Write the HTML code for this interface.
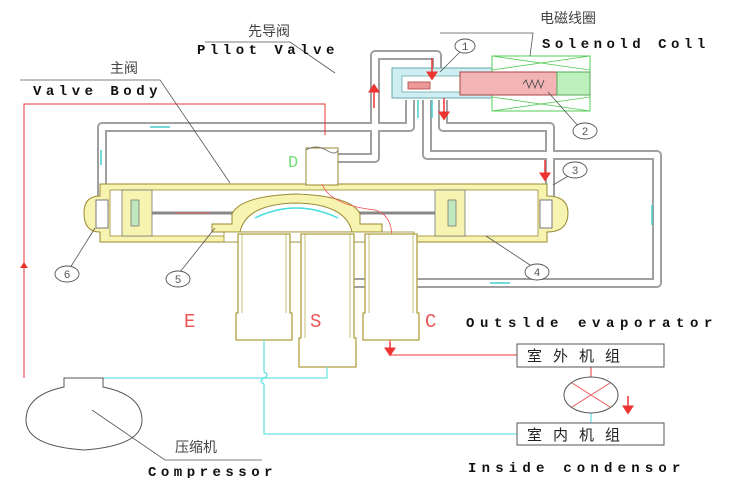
<!DOCTYPE html>
<html><head><meta charset="utf-8"><style>
html,body{margin:0;padding:0;background:#fff}
svg{display:block}
text{font-family:"Liberation Mono","Noto Sans CJK SC",monospace}
.cn{font-family:"Liberation Sans","Noto Sans CJK SC",sans-serif;font-size:14px;fill:#444}
.en{font-size:14px;fill:#111;letter-spacing:4.5px;font-weight:bold}
</style></head><body>
<svg width="740" height="478" viewBox="0 0 740 478" xmlns="http://www.w3.org/2000/svg">
<defs>
<marker id="ar" markerWidth="6" markerHeight="8" refX="3" refY="4" orient="auto"><path d="M0,0L6,4L0,8z" fill="#e33"/></marker>
</defs>
<g fill="none" stroke-linejoin="round">
<g stroke="#a0a0a0" stroke-width="10">
<path d="M102,205V127H410V100"/>
<path d="M443,100V127H550V205"/>
<path d="M427,100V155H657V283H332"/>
<path d="M330,158H375V55H437V68"/>
</g>
<g stroke="#fff" stroke-width="6">
<path d="M102,205V127H410V100"/>
<path d="M443,100V127H550V205"/>
<path d="M427,100V155H657V283H332"/>
<path d="M330,158H375V55H437V68"/>
</g>
</g>
<path d="M100,184H547V196Q568,196 568,213Q568,232 547,232V242H100V232Q84,232 84,213Q84,196 100,196Z" fill="#f7f3b0" stroke="#998a30" stroke-width="1"/>
<rect x="110" y="190" width="428" height="46" fill="#fff" stroke="#998a30" stroke-width="0.8"/>
<rect x="96" y="200" width="12" height="28" fill="#fff" stroke="#777"/>
<rect x="540" y="200" width="12" height="28" fill="#fff" stroke="#777"/>
<rect x="306" y="148" width="32" height="37" fill="#fff" stroke="#998a30"/>
<path d="M306,150q10,-6 20,0q10,6 12,0" fill="none" stroke="#777"/>
<g stroke="#777" stroke-width="0.8">
<rect x="122" y="190" width="30" height="46" fill="#f7f3b0"/>
<rect x="131" y="200" width="8" height="26" fill="#bfe8bf"/>
<rect x="435" y="190" width="30" height="46" fill="#f7f3b0"/>
<rect x="448" y="200" width="8" height="26" fill="#bfe8bf"/>
</g>
<line x1="152" y1="213" x2="435" y2="213" stroke="#888" stroke-width="3"/>
<line x1="175" y1="213" x2="210" y2="213" stroke="#d66" stroke-width="1"/>
<path d="M212,224H232V214Q240,196 296,194Q352,196 360,214V224H382V232H212Z" fill="#f7f3b0" stroke="#998a30"/>
<path d="M240,232Q246,204 296,203Q346,204 352,232Z" fill="#fff" stroke="#998a30"/>
<path d="M255,218Q296,198 338,218" fill="none" stroke="#4dd" stroke-width="1.5"/>
<rect x="224" y="232" width="190" height="10" fill="#fff" stroke="#998a30" stroke-width="0.8"/>
<path d="M322,184Q330,205 375,210Q392,215 392,238" fill="none" stroke="#e55" stroke-width="0.8" marker-end="url(#ar)"/>
<g fill="#fff" stroke="#b0a040" stroke-width="1.3">
<path d="M238,234V313H236V340H292V313H290V234Z"/>
<path d="M301,234V338H299V367H356V338H354V234Z"/>
<path d="M365,234V313H363V340H419V313H417V234Z"/>
</g>
<g fill="none" stroke="#b0a040" stroke-width="0.7">
<path d="M242,234V313M286,234V313M305,234V338M350,234V338M369,234V313M413,234V313"/>
</g>
<g font-family="Liberation Sans,sans-serif" font-size="19" fill="#e55">
<text x="184" y="327">E</text><text x="310" y="327">S</text><text x="425" y="327">C</text>
</g>
<text x="288" y="167" font-family="Liberation Sans,sans-serif" font-size="17" fill="#7d7">D</text>
<rect x="392" y="68" width="100" height="30" fill="#cfeef2" stroke="#6aa"/>
<rect x="402" y="76" width="60" height="16" fill="#fff" stroke="#6aa" stroke-width="0.8"/>
<rect x="408" y="82" width="22" height="7" fill="#e99" stroke="#a44" stroke-width="0.8"/>
<rect x="492" y="56" width="98" height="55" fill="#fff" stroke="#5c5"/>
<path d="M492,56L590,70M492,70L590,56M492,97L590,111M492,111L590,97" stroke="#5c5" stroke-width="0.8"/>
<rect x="460" y="72" width="97" height="23" fill="#f2b4b4" stroke="#a44"/>
<rect x="557" y="72" width="33" height="23" fill="#bdf0bd" stroke="#5a5"/>
<path d="M523,84l3,-4l3,8l3,-8l3,8l3,-8l3,8l3,-8" fill="none" stroke="#444" stroke-width="0.8"/>
<g stroke-width="1.5">
<line x1="374" y1="108" x2="374" y2="88" stroke="#e33" marker-end="url(#ar)"/>
<line x1="432" y1="58" x2="432" y2="76" stroke="#e33" marker-end="url(#ar)"/>
<line x1="444" y1="98" x2="444" y2="116" stroke="#e33" marker-end="url(#ar)"/>
<line x1="418" y1="118" x2="418" y2="100" stroke="#4cc"/>
<line x1="432" y1="100" x2="432" y2="118" stroke="#4cc"/>
<line x1="101" y1="165" x2="101" y2="150" stroke="#4cc"/>
<line x1="150" y1="127" x2="170" y2="127" stroke="#4cc"/>
<line x1="545" y1="160" x2="545" y2="177" stroke="#e33" marker-end="url(#ar)"/>
<line x1="652" y1="205" x2="652" y2="225" stroke="#4cc"/>
<line x1="490" y1="283" x2="510" y2="283" stroke="#4cc"/>
</g>
<g fill="none" stroke-width="1">
<path d="M24,378V104H325V135" stroke="#e33"/>
<line x1="24" y1="275" x2="24" y2="265" stroke="#e33" marker-end="url(#ar)"/>
<path d="M103,378H327V367" stroke="#4dd"/>
<path d="M264,340V372q6,3 0,6q-6,3 0,6V434H517" stroke="#4dd"/>
<path d="M390,340V355H517" stroke="#e33"/>
<path d="M591,367V377" stroke="#e33"/>
<path d="M591,413V423" stroke="#4dd"/>
<line x1="628" y1="396" x2="628" y2="410" stroke="#e33" stroke-width="1.5" marker-end="url(#ar)"/>
<line x1="390" y1="342" x2="390" y2="352" stroke="#e33" stroke-width="1.5" marker-end="url(#ar)"/>
</g>
<rect x="517" y="344" width="147" height="23" fill="#fff" stroke="#555"/>
<rect x="517" y="423" width="147" height="22" fill="#fff" stroke="#555"/>
<text x="527" y="361" class="cn" style="font-size:15px;fill:#222;letter-spacing:11px">室外机组</text>
<text x="527" y="440" class="cn" style="font-size:15px;fill:#222;letter-spacing:11px">室内机组</text>
<ellipse cx="591" cy="395" rx="27" ry="18" fill="#fff" stroke="#555"/>
<path d="M572,383L610,407M572,407L610,383" stroke="#e55"/>
<path d="M64,378H103V387Q142,395 142,420Q142,446 84,450Q26,446 26,420Q26,395 64,387Z" fill="#fff" stroke="#555"/>
<path d="M92,410L165,460H262" fill="none" stroke="#555" stroke-width="0.8"/>
<text x="175" y="452" class="cn">压缩机</text>
<text x="148" y="476" class="en">Compressor</text>
<g fill="none" stroke="#555" stroke-width="0.8">
<path d="M20,80H160L230,183"/>
<path d="M205,42H290L335,73"/>
<path d="M440,33H533L530,56"/>
<path d="M440,72L460,52"/>
<path d="M548,92L580,128"/>
<path d="M553,185L575,172"/>
<path d="M486,236L530,265"/>
<path d="M215,228L180,272"/>
<path d="M95,228L70,268"/>
</g>
<g fill="#fff" stroke="#555" stroke-width="0.9">
<ellipse cx="465" cy="46" rx="10" ry="7"/><ellipse cx="585" cy="131" rx="12" ry="8"/><ellipse cx="575" cy="170" rx="12" ry="8"/>
<ellipse cx="537" cy="272" rx="12" ry="8"/><ellipse cx="178" cy="279" rx="12" ry="8"/><ellipse cx="67" cy="274" rx="12" ry="8"/>
</g>
<g font-family="Liberation Sans,sans-serif" font-size="11" fill="#555" text-anchor="middle">
<text x="465" y="50">1</text><text x="585" y="135">2</text><text x="575" y="174">3</text>
<text x="537" y="276">4</text><text x="178" y="283">5</text><text x="67" y="278">6</text>
</g>
<text x="248" y="36" class="cn">先导阀</text>
<text x="197" y="54" class="en">Pllot Valve</text>
<text x="540" y="23" class="cn">电磁线圈</text>
<text x="542" y="48" class="en">Solenold Coll</text>
<text x="110" y="73" class="cn">主阀</text>
<text x="33" y="95" class="en">Valve Body</text>
<text x="466" y="327" class="en" style="letter-spacing:5.6px">Outslde evaporator</text>
<text x="468" y="472" class="en" style="letter-spacing:5.2px">Inside condensor</text>
</svg>
</body></html>
